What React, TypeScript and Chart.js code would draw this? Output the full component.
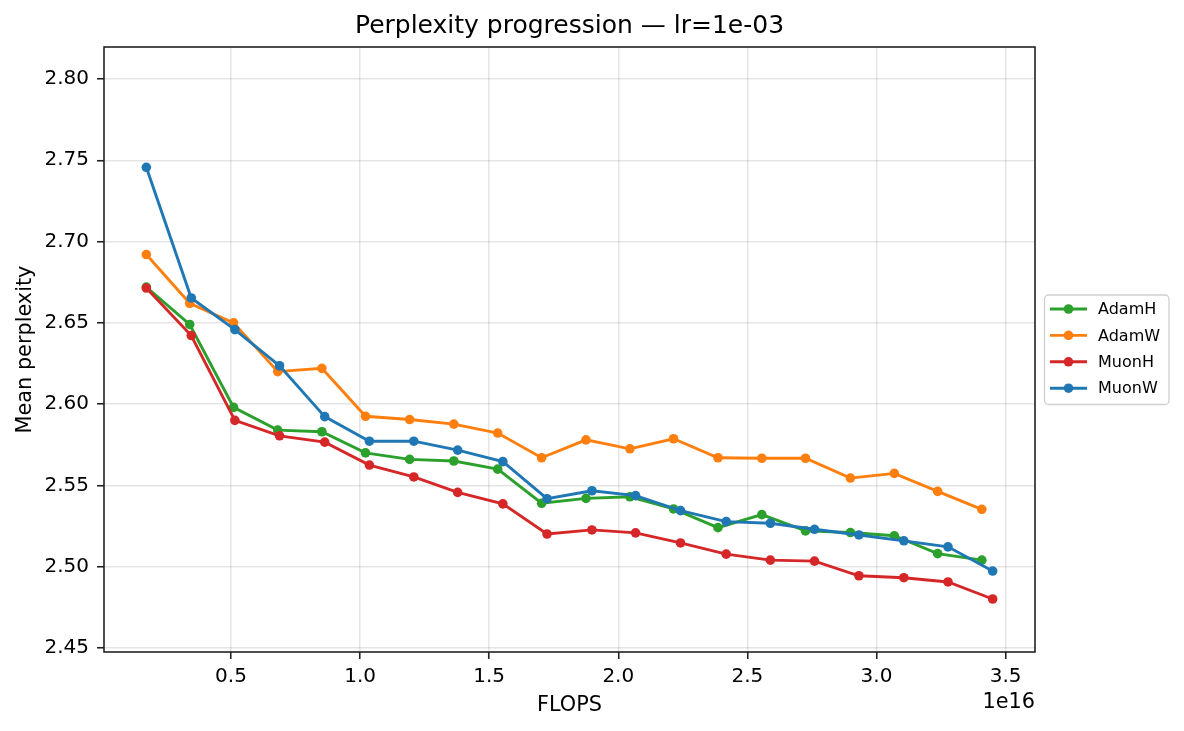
import React, { useEffect, useRef } from 'react'
import { Chart, registerables } from 'chart.js'

Chart.register(...registerables)

// FLOPS at which each optimizer was evaluated
const adamFlops = [
  1.72e15, 3.4e15, 5.1e15, 6.81e15, 8.52e15, 1.021e16, 1.192e16, 1.363e16, 1.533e16, 1.703e16,
  1.875e16, 2.045e16, 2.214e16, 2.386e16, 2.556e16, 2.725e16, 2.899e16, 3.069e16, 3.237e16, 3.408e16,
]
const muonFlops = [
  1.72e15, 3.46e15, 5.15e15, 6.88e15, 8.63e15, 1.036e16, 1.208e16, 1.378e16, 1.553e16, 1.724e16,
  1.898e16, 2.067e16, 2.241e16, 2.418e16, 2.589e16, 2.76e16, 2.932e16, 3.106e16, 3.277e16, 3.45e16,
]

const adamH = [
  2.672, 2.649, 2.598, 2.584, 2.583, 2.57, 2.566, 2.565, 2.56, 2.539,
  2.542, 2.543, 2.5355, 2.524, 2.532, 2.522, 2.521, 2.519, 2.508, 2.504,
]
const adamW = [
  2.692, 2.662, 2.65, 2.62, 2.622, 2.5925, 2.5905, 2.5877, 2.5822, 2.567,
  2.578, 2.5725, 2.5787, 2.567, 2.5667, 2.5667, 2.5545, 2.5574, 2.5463, 2.5353,
]
const muonH = [
  2.6714, 2.6422, 2.59, 2.5805, 2.5766, 2.5625, 2.5552, 2.5457, 2.5386, 2.5201,
  2.5226, 2.5208, 2.5146, 2.5077, 2.504, 2.5034, 2.4944, 2.4932, 2.4906, 2.4801,
]
const muonW = [
  2.7457, 2.6653, 2.6458, 2.6236, 2.5923, 2.5772, 2.5772, 2.5717, 2.5646, 2.5418,
  2.5467, 2.5437, 2.5345, 2.5277, 2.5267, 2.523, 2.5195, 2.5159, 2.5122, 2.4973,
]

const xTicks = [0.5e16, 1.0e16, 1.5e16, 2.0e16, 2.5e16, 3.0e16, 3.5e16]
const yTicks = [2.45, 2.5, 2.55, 2.6, 2.65, 2.7, 2.75, 2.8]

const series = [
  { label: 'AdamH', x: adamFlops, y: adamH, color: '#2ca02c' },
  { label: 'AdamW', x: adamFlops, y: adamW, color: '#ff7f0e' },
  { label: 'MuonH', x: muonFlops, y: muonH, color: '#d62728' },
  { label: 'MuonW', x: muonFlops, y: muonW, color: '#1f77b4' },
]

const FONT = 'DejaVu Sans'
const TITLE = 'Perplexity progression — lr=1e-03'

// title over the axes, frame, the "1e16" offset text and the legend box
const decorations = {
  id: 'decorations',
  afterDraw(chart: Chart) {
    const { ctx, chartArea } = chart
    ctx.save()
    ctx.strokeStyle = '#222'
    ctx.lineWidth = 1.6
    ctx.strokeRect(chartArea.left, chartArea.top, chartArea.right - chartArea.left, chartArea.bottom - chartArea.top)

    ctx.fillStyle = '#000'
    ctx.textBaseline = 'middle'
    ctx.textAlign = 'center'
    ctx.font = `25px "${FONT}"`
    ctx.fillText(TITLE, (chartArea.left + chartArea.right) / 2, 26)

    ctx.font = `20.8px "${FONT}"`
    ctx.textAlign = 'right'
    ctx.fillText('1e16', chartArea.right, 703)

    // legend
    const lx = 1044.5
    const ly = 295
    const lw = 124.5
    const lh = 109.5
    ctx.beginPath()
    ctx.roundRect(lx, ly, lw, lh, 4)
    ctx.fillStyle = 'rgba(255,255,255,0.8)'
    ctx.fill()
    ctx.strokeStyle = '#d0d0d0'
    ctx.lineWidth = 1.3
    ctx.stroke()
    ctx.font = `16px "${FONT}"`
    ctx.textAlign = 'left'
    series.forEach((s, i) => {
      const cy = 309 + i * 26.4
      ctx.strokeStyle = s.color
      ctx.lineWidth = 2.9
      ctx.beginPath()
      ctx.moveTo(1050, cy)
      ctx.lineTo(1087, cy)
      ctx.stroke()
      ctx.fillStyle = s.color
      ctx.beginPath()
      ctx.arc(1068.5, cy, 4.8, 0, Math.PI * 2)
      ctx.fill()
      ctx.fillStyle = '#000'
      ctx.fillText(s.label, 1098, cy + 1)
    })
    ctx.restore()
  },
}

export default function App() {
  const canvasRef = useRef<HTMLCanvasElement>(null)

  useEffect(() => {
    if (!canvasRef.current) return
    const chart = new Chart(canvasRef.current, {
      type: 'line',
      data: {
        datasets: series.map((s, i) => ({
          label: s.label,
          data: s.x.map((x, j) => ({ x, y: s.y[j] })),
          borderColor: s.color,
          backgroundColor: s.color,
          borderWidth: 2.9,
          pointRadius: 4.8,
          pointBorderWidth: 0,
          pointHoverRadius: 4.8,
          tension: 0,
          fill: false,
          order: series.length - i,
        })),
      },
      options: {
        animation: false,
        responsive: true,
        maintainAspectRatio: false,
        layout: { padding: { left: 0, right: 149, top: 47, bottom: 0 } },
        plugins: {
          legend: { display: false },
          tooltip: { enabled: false },
          title: { display: false },
        },
        scales: {
          x: {
            type: 'linear',
            min: 8.1e13,
            max: 3.614e16,
            afterBuildTicks: (scale) => {
              scale.ticks = xTicks.map((value) => ({ value }))
            },
            afterFit: (scale) => {
              scale.height = 79
            },
            ticks: {
              color: '#000',
              font: { family: FONT, size: 20 },
              padding: 6,
              maxRotation: 0,
              autoSkip: false,
              callback: (value) => (Number(value) / 1e16).toFixed(1),
            },
            grid: {
              color: 'rgba(0,0,0,0.1)',
              lineWidth: 1.5,
              tickColor: '#222',
              tickLength: 7,
              tickWidth: 1.6,
            },
            border: { display: false },
            title: {
              display: true,
              text: 'FLOPS',
              color: '#000',
              font: { family: FONT, size: 20.8 },
              padding: { top: 0, bottom: 13 },
            },
          },
          y: {
            type: 'linear',
            min: 2.4475,
            max: 2.8197,
            afterBuildTicks: (scale) => {
              scale.ticks = yTicks.map((value) => ({ value }))
            },
            afterFit: (scale) => {
              scale.width = 104
            },
            ticks: {
              color: '#000',
              font: { family: FONT, size: 20 },
              padding: 8,
              autoSkip: false,
              callback: (value) => Number(value).toFixed(2),
            },
            grid: {
              color: 'rgba(0,0,0,0.1)',
              lineWidth: 1.5,
              tickColor: '#222',
              tickLength: 7,
              tickWidth: 1.6,
            },
            border: { display: false },
            title: {
              display: true,
              text: 'Mean perplexity',
              color: '#000',
              font: { family: FONT, size: 20.8 },
              padding: { top: 13, bottom: 0 },
            },
          },
        },
      },
      plugins: [decorations],
    })
    return () => chart.destroy()
  }, [])

  return (
    <div style={{ position: 'fixed', left: 0, top: 0, width: 1184, height: 731, background: '#fff' }}>
      <canvas ref={canvasRef} />
    </div>
  )
}
